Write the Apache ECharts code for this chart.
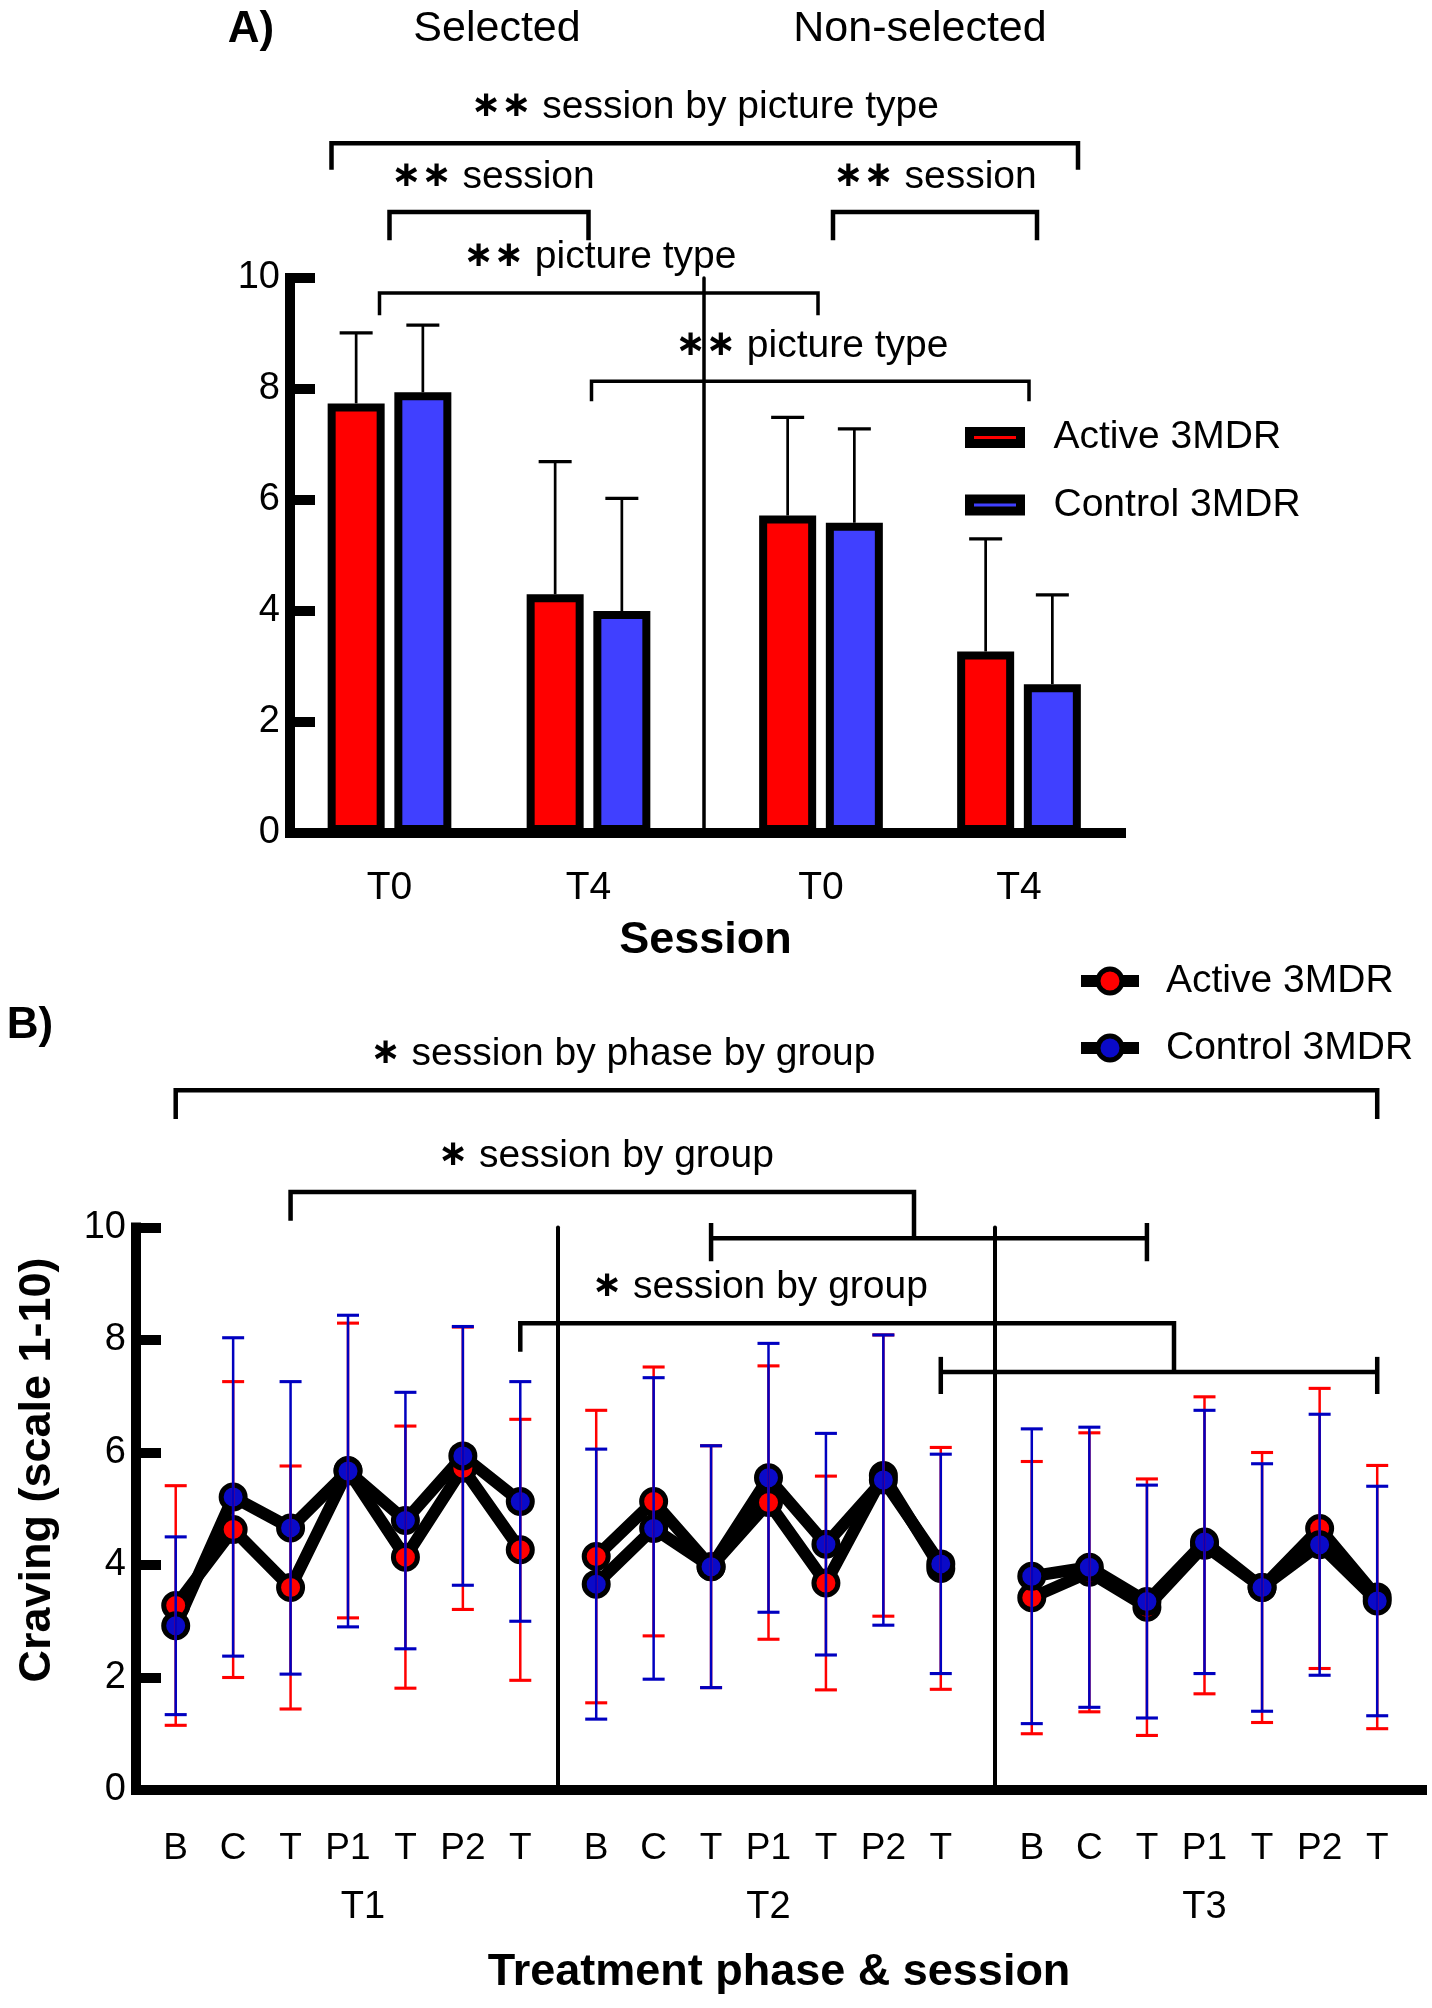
<!DOCTYPE html>
<html>
<head>
  <meta charset="utf-8">
</head>
<body style="margin: 0; background: #fff">
  <div id="container" style="width: 1432px; height: 2008px"></div>

  <script type="text/javascript" src="https://cdn.jsdelivr.net/npm/echarts@6/dist/echarts.min.js"></script>
  <script type="text/javascript">
    // ---------- panel A : bars (mean) with upper SD ----------
    var sessionsA = ['T0', 'T4'];
    var activeSelected = [7.74, 4.30];
    var activeSelectedSd = [1.27, 2.39];
    var controlSelected = [7.94, 4.00];
    var controlSelectedSd = [1.21, 2.03];
    var activeNonSelected = [5.72, 3.27];
    var activeNonSelectedSd = [1.77, 2.03];
    var controlNonSelected = [5.59, 2.68];
    var controlNonSelectedSd = [1.69, 1.61];

    // ---------- panel B : means +/- SD per phase ----------
    var phases = ['B', 'C', 'T', 'P1', 'T', 'P2', 'T'];
    var sessionsB = ['T1', 'T2', 'T3'];
    var activeT1 = [3.28, 4.63, 3.60, 5.68, 4.14, 5.72, 4.27];
    var activeT1Sd = [2.13, 2.63, 2.16, 2.62, 2.33, 2.51, 2.32];
    var activeT2 = [4.15, 5.13, 3.97, 5.11, 3.68, 5.59, 3.94];
    var activeT2Sd = [2.60, 2.39, 2.15, 2.43, 1.90, 2.50, 2.15];
    var activeT3 = [3.42, 3.87, 3.25, 4.35, 3.60, 4.65, 3.43];
    var activeT3Sd = [2.42, 2.48, 2.28, 2.64, 2.40, 2.49, 2.34];
    var controlT1 = [2.92, 5.21, 4.66, 5.67, 4.79, 5.94, 5.13];
    var controlT1Sd = [1.58, 2.83, 2.60, 2.77, 2.28, 2.30, 2.13];
    var controlT2 = [3.66, 4.65, 3.97, 5.55, 4.37, 5.51, 4.02];
    var controlT2Sd = [2.40, 2.68, 2.15, 2.39, 1.97, 2.58, 1.95];
    var controlT3 = [3.80, 3.96, 3.35, 4.41, 3.60, 4.36, 3.36];
    var controlT3Sd = [2.62, 2.49, 2.07, 2.34, 2.20, 2.32, 2.04];

    var labels = {
      barActive: 'Active 3MDR', barControl: 'Control 3MDR',
      lineActive: 'Active 3MDR', lineControl: 'Control 3MDR'
    };

    var FONT = '"Liberation Sans", Arial, sans-serif';
    var RED = '#FF0000';
    var BAR_BLUE = '#4040FF';
    var DOT_BLUE = '#0A0AC8';
    var ERR_BLUE = '#0000C0';

    var dom = document.getElementById('container');
    var myChart = echarts.init(dom, null, { renderer: 'canvas' });

    function rows(means, sds) {
      return means.map(function (m, i) { return [i, m, sds[i]]; });
    }

    // error bar drawn through the axes of the series' grid
    function errorBar(offsetPx, capW, lineW, color, upperOnly) {
      return function (params, api) {
        var x = api.value(0), m = api.value(1), sd = api.value(2);
        var top = api.coord([x, m + sd]);
        var mid = api.coord([x, m]);
        var bot = api.coord([x, m - sd]);
        var cx = top[0] + offsetPx;
        var st = { stroke: color, lineWidth: lineW };
        var kids = [
          { type: 'line', shape: { x1: cx, y1: top[1], x2: cx, y2: upperOnly ? mid[1] : bot[1] }, style: st },
          { type: 'line', shape: { x1: cx - capW / 2, y1: top[1], x2: cx + capW / 2, y2: top[1] }, style: { stroke: color, lineWidth: lineW + 0.6 } }
        ];
        if (!upperOnly) {
          kids.push({ type: 'line', shape: { x1: cx - capW / 2, y1: bot[1], x2: cx + capW / 2, y2: bot[1] }, style: { stroke: color, lineWidth: lineW + 0.6 } });
        }
        return { type: 'group', children: kids };
      };
    }

    var axisBlack = { color: '#000', width: 10, cap: 'square' };

    function frameX(idx, name, gap) {
      return {
        gridIndex: idx, type: 'value', min: 0, max: 1, position: 'bottom',
        axisLine: { lineStyle: axisBlack },
        axisTick: { show: false }, axisLabel: { show: false }, splitLine: { show: false },
        name: name, nameLocation: 'middle', nameGap: gap,
        nameTextStyle: { fontSize: 45, fontWeight: 'bold', color: '#000', fontFamily: FONT }
      };
    }
    function frameY(idx) {
      return {
        gridIndex: idx, type: 'value', min: 0, max: 10, interval: 2,
        axisLine: { show: true, lineStyle: axisBlack },
        axisTick: { show: true, inside: true, length: 25, lineStyle: { color: '#000', width: 10 } },
        axisLabel: { fontSize: 38, color: '#000', margin: 10 },
        splitLine: { show: false }
      };
    }
    function innerY(idx, sepOffset, sepWidth) {
      return {
        gridIndex: idx, type: 'value', min: 0, max: 10, interval: 2,
        offset: sepOffset || 0,
        axisLine: { show: !!sepOffset, lineStyle: { color: '#000', width: sepWidth || 4 } },
        axisTick: { show: false }, axisLabel: { show: false }, splitLine: { show: false }
      };
    }
    function catX(idx, data, size, margin, padding) {
      return {
        gridIndex: idx, type: 'category', data: data, position: 'bottom',
        axisLine: { show: false }, axisTick: { show: false }, splitLine: { show: false },
        axisLabel: { interval: 0, fontSize: size, color: '#000', margin: margin, padding: padding || 0 }
      };
    }

    var bTop = 1227.5, bHeight = 562.5;

    var option = {
      animation: false,
      textStyle: { fontFamily: FONT, color: '#000' },
      grid: [
        { left: 290, top: 278, width: 831, height: 555 },   // 0 frame A
        { left: 290, top: 278, width: 398, height: 555 },   // 1 selected
        { left: 722, top: 278, width: 396, height: 555 },   // 2 non-selected
        { left: 136, top: bTop, width: 1286, height: bHeight }, // 3 frame B
        { left: 147, top: bTop, width: 402, height: bHeight },   // 4 T1
        { left: 567.5, top: bTop, width: 402, height: bHeight }, // 5 T2
        { left: 1003, top: bTop, width: 403, height: bHeight }   // 6 T3
      ],
      xAxis: [
        frameX(0, 'Session', 85),
        catX(1, sessionsA, 39, 36),
        catX(2, sessionsA, 39, 36),
        frameX(3, 'Treatment phase & session', 160),
        catX(4, phases, 37, 40),
        catX(5, phases, 37, 40),
        catX(6, phases, 37, 40),
        catX(4, [sessionsB[0]], 38, 99, [0, 0, 0, 30]),
        catX(5, [sessionsB[1]], 38, 99),
        catX(6, [sessionsB[2]], 38, 99)
      ],
      yAxis: [
        frameY(0),
        innerY(1),
        innerY(2, 18, 3.5),
        frameY(3),
        innerY(4),
        innerY(5, 9.5, 4),
        innerY(6, 8, 4)
      ],
      legend: [
        {
          data: ['barActive'], left: 965, top: 418, padding: 0, selectedMode: false,
          icon: 'rect', itemWidth: 51, itemHeight: 12,
          itemStyle: { borderWidth: 9, borderColor: '#000' },
          formatter: function (n) { return labels[n]; },
          textStyle: { fontSize: 39, color: '#000', padding: [0, 0, 0, 28] }
        },
        {
          data: ['barControl'], left: 965, top: 485.5, padding: 0, selectedMode: false,
          icon: 'rect', itemWidth: 51, itemHeight: 12,
          itemStyle: { borderWidth: 9, borderColor: '#000' },
          formatter: function (n) { return labels[n]; },
          textStyle: { fontSize: 39, color: '#000', padding: [0, 0, 0, 28] }
        },
        {
          data: ['lineActive'], left: 1075, top: 961.5, padding: 0, selectedMode: false,
          itemWidth: 58, itemHeight: 30,
          lineStyle: { width: 12, color: '#000' },
          itemStyle: { borderWidth: 5, borderColor: '#000' },
          formatter: function (n) { return labels[n]; },
          textStyle: { fontSize: 39, color: '#000', padding: [0, 0, 0, 22] }
        },
        {
          data: ['lineControl'], left: 1075, top: 1028.5, padding: 0, selectedMode: false,
          itemWidth: 58, itemHeight: 30,
          lineStyle: { width: 12, color: '#000' },
          itemStyle: { borderWidth: 5, borderColor: '#000' },
          formatter: function (n) { return labels[n]; },
          textStyle: { fontSize: 39, color: '#000', padding: [0, 0, 0, 22] }
        }
      ],
      series: []
    };

    // panel A bars
    var barSets = [
      [1, activeSelected, activeSelectedSd, controlSelected, controlSelectedSd],
      [2, activeNonSelected, activeNonSelectedSd, controlNonSelected, controlNonSelectedSd]
    ];
    barSets.forEach(function (s) {
      var ax = s[0];
      option.series.push({
        name: 'barActive', type: 'bar', xAxisIndex: ax, yAxisIndex: ax, data: s[1],
        barWidth: 57, barGap: '17%',
        itemStyle: { color: RED, borderColor: '#000', borderWidth: 8 }
      });
      option.series.push({
        name: 'barControl', type: 'bar', xAxisIndex: ax, yAxisIndex: ax, data: s[3],
        barWidth: 57, barGap: '17%',
        itemStyle: { color: BAR_BLUE, borderColor: '#000', borderWidth: 8 }
      });
    });
    barSets.forEach(function (s) {
      var ax = s[0];
      option.series.push({
        type: 'custom', xAxisIndex: ax, yAxisIndex: ax, data: rows(s[1], s[2]),
        encode: { x: 0, y: 1 }, renderItem: errorBar(-33.35, 33, 2.7, '#000', true), z: 1
      });
      option.series.push({
        type: 'custom', xAxisIndex: ax, yAxisIndex: ax, data: rows(s[3], s[4]),
        encode: { x: 0, y: 1 }, renderItem: errorBar(33.35, 33, 2.7, '#000', true), z: 1
      });
    });

    // panel B lines
    var lineSets = [
      [4, activeT1, activeT1Sd, controlT1, controlT1Sd],
      [5, activeT2, activeT2Sd, controlT2, controlT2Sd],
      [6, activeT3, activeT3Sd, controlT3, controlT3Sd]
    ];
    lineSets.forEach(function (s) {
      var ax = s[0];
      option.series.push({
        name: 'lineActive', type: 'line', xAxisIndex: ax, yAxisIndex: ax, data: s[1],
        symbol: 'circle', symbolSize: 24,
        lineStyle: { color: '#000', width: 12 },
        itemStyle: { color: RED, borderColor: '#000', borderWidth: 5 }
      });
      option.series.push({
        name: 'lineControl', type: 'line', xAxisIndex: ax, yAxisIndex: ax, data: s[3],
        symbol: 'circle', symbolSize: 24,
        lineStyle: { color: '#000', width: 12 },
        itemStyle: { color: DOT_BLUE, borderColor: '#000', borderWidth: 5 }
      });
    });
    lineSets.forEach(function (s) {
      var ax = s[0];
      option.series.push({
        type: 'custom', xAxisIndex: ax, yAxisIndex: ax, data: rows(s[1], s[2]),
        encode: { x: 0, y: 1 }, renderItem: errorBar(0, 22, 2.5, RED, false), z: 4
      });
      option.series.push({
        type: 'custom', xAxisIndex: ax, yAxisIndex: ax, data: rows(s[3], s[4]),
        encode: { x: 0, y: 1 }, renderItem: errorBar(0, 22, 2.5, ERR_BLUE, false), z: 5
      });
    });

    myChart.setOption(option);

    // ---------- annotations (brackets + texts) ----------
    function px(ax, cat, val) {
      return myChart.convertToPixel({ xAxisIndex: ax, yAxisIndex: ax }, [cat, val]);
    }
    function yOf(ax, val) { return px(ax, 0, val)[1]; }
    var g = [];
    function poly(points, w) {
      g.push({ type: 'polyline', shape: { points: points }, style: { stroke: '#000', lineWidth: w, fill: null } });
    }
    // standard bracket: legs down from a horizontal line
    function bracket(ax, x1, x2, yH, yL1, yL2, w) {
      var h = yOf(ax, yH);
      poly([[x1, yOf(ax, yL1)], [x1, h], [x2, h], [x2, yOf(ax, yL2)]], w);
    }
    // horizontal with T ends
    function tBar(ax, x1, x2, yH, yTop, yBot, w) {
      var h = yOf(ax, yH), t = yOf(ax, yTop), b = yOf(ax, yBot);
      poly([[x1, h], [x2, h]], w);
      poly([[x1, t], [x1, b]], w);
      poly([[x2, t], [x2, b]], w);
    }
    // stars are bold, rest of the note regular
    function note(stars, rest, x, y) {
      g.push({
        type: 'text', x: x, y: y,
        style: {
          text: '{s|' + stars + '} ' + rest, fill: '#000', fontSize: 39, fontFamily: FONT,
          align: 'center', verticalAlign: 'middle',
          rich: { s: { fontSize: 36, fontWeight: 'bold', fontFamily: '"DejaVu Sans", sans-serif' } }
        }
      });
    }
    function text(str, x, y, size, bold, rot) {
      g.push({
        type: 'text', x: x, y: y, rotation: rot || 0,
        style: {
          text: str, fill: '#000', fontSize: size, fontFamily: FONT, fontWeight: bold ? 'bold' : 'normal',
          align: 'center', verticalAlign: 'middle'
        }
      });
    }

    // panel A
    var aSel0 = px(1, 0, 0)[0], aSel1 = px(1, 1, 0)[0];
    var aNon0 = px(2, 0, 0)[0], aNon1 = px(2, 1, 0)[0];
    bracket(1, aSel0 - 58, aNon1 + 59, 12.43, 11.95, 11.95, 4.5);
    bracket(1, aSel0, aSel1, 11.19, 10.68, 10.68, 4.5);
    bracket(1, aNon0 + 12, aNon1 + 18, 11.19, 10.68, 10.68, 4.5);
    bracket(1, aSel0 - 10, aNon0 - 3, 9.73, 9.33, 9.33, 3.5);
    bracket(1, aSel1 + 3, aNon1 + 10, 8.14, 7.78, 7.78, 3.5);

    text('A)', 251, 30, 44, true);
    text('Selected', 497, 29, 43);
    text('Non-selected', 920, 29, 43);
    note('\u2217\u2217', 'session by picture type', 705, 107);
    note('\u2217\u2217', 'session', 493, 177);
    note('\u2217\u2217', 'session', 935, 177);
    note('\u2217\u2217', 'picture type', 600, 257);
    note('\u2217\u2217', 'picture type', 812, 346);

    // panel B
    var b1 = function (i) { return px(4, i, 0)[0]; };
    var b2 = function (i) { return px(5, i, 0)[0]; };
    var b3 = function (i) { return px(6, i, 0)[0]; };
    bracket(4, b1(0), b3(6), 12.44, 11.93, 11.93, 4.5);
    var mid1 = (b2(2) + b3(2)) / 2 - 15;
    bracket(4, b1(2), mid1, 10.63, 10.12, 9.81, 4.5);
    tBar(4, b2(2), b3(2), 9.81, 10.08, 9.40, 4.5);
    var mid2 = (b2(6) + b3(6)) / 2 + 15;
    bracket(4, b1(6), mid2, 8.30, 7.79, 7.43, 4.5);
    tBar(4, b2(6), b3(6), 7.43, 7.70, 7.04, 4.5);

    text('B)', 30, 1026, 44, true);
    note('\u2217', 'session by phase by group', 623, 1054);
    note('\u2217', 'session by group', 606, 1156);
    note('\u2217', 'session by group', 760, 1287);
    text('Craving (scale 1-10)', 38, 1470, 45, true, Math.PI / 2);

    myChart.setOption({ graphic: g });

    window.addEventListener('resize', myChart.resize);
  </script>
</body>
</html>
